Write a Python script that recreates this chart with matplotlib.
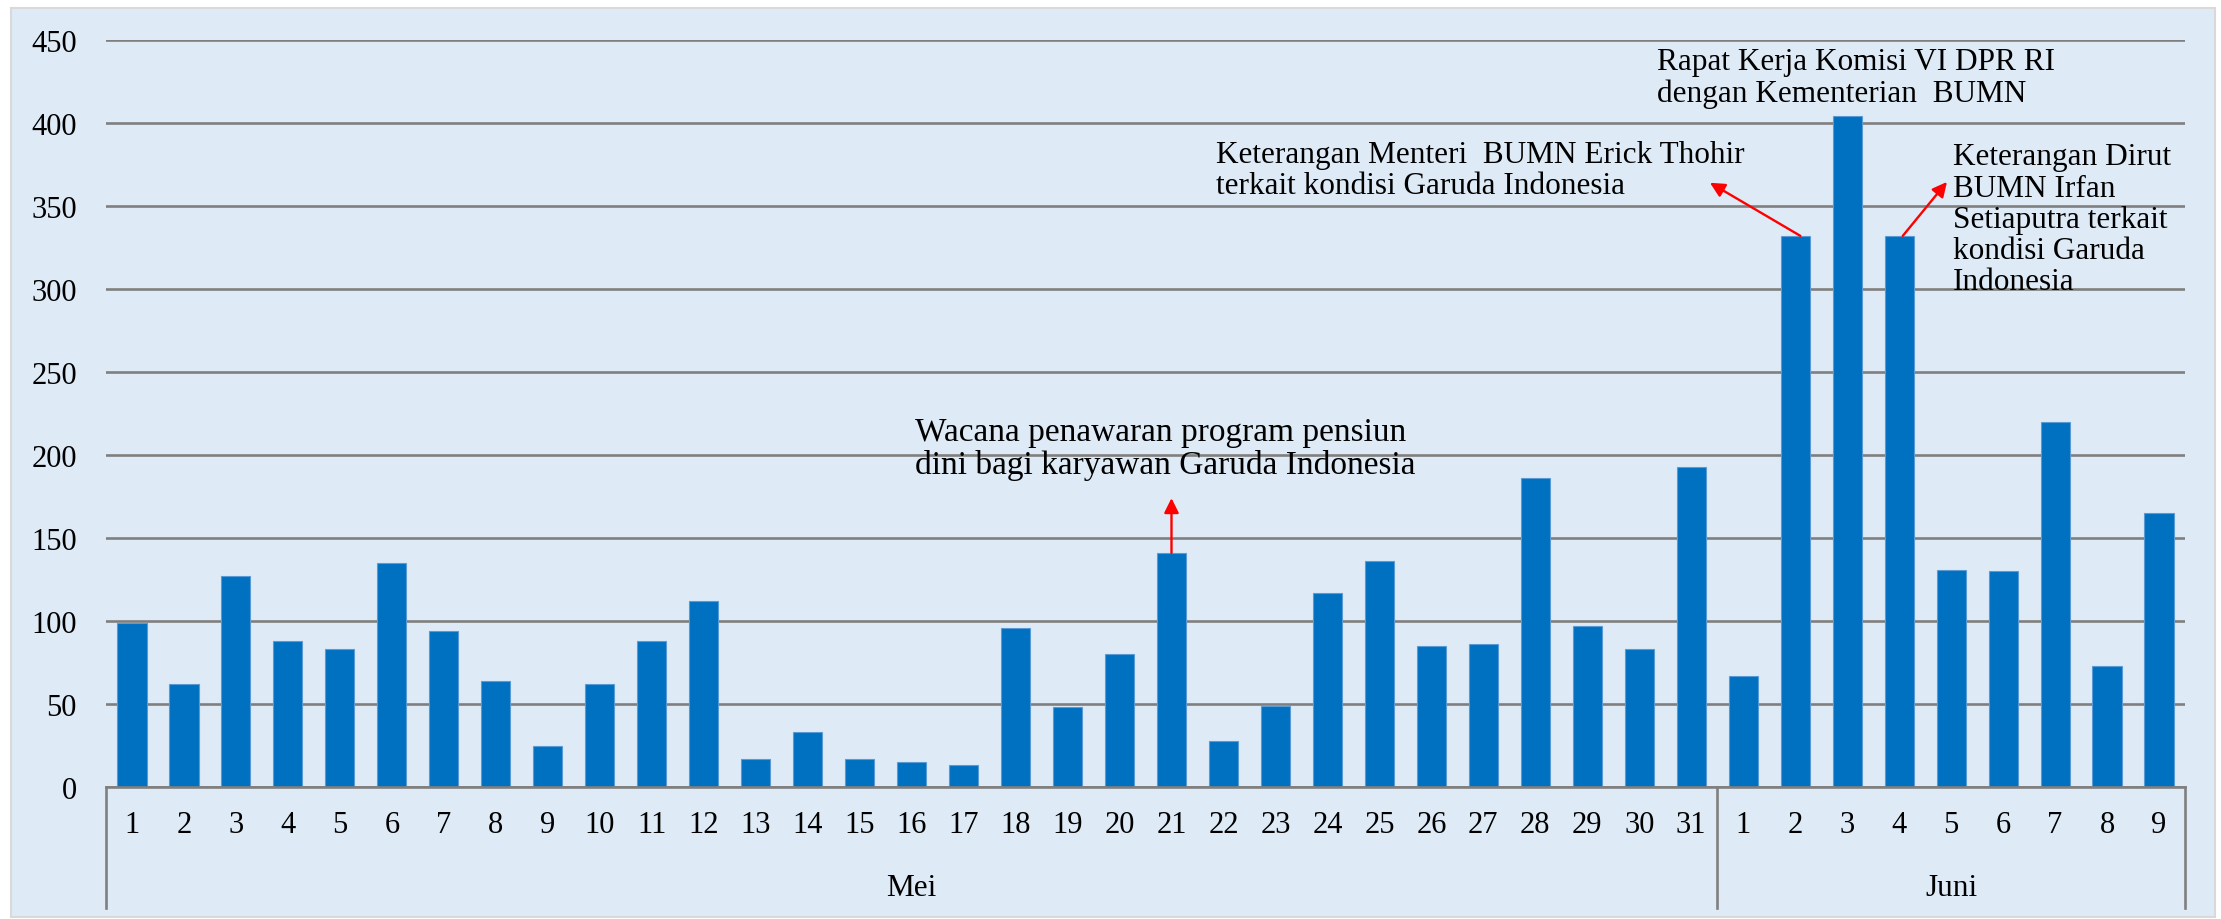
import matplotlib
matplotlib.use('Agg')
import matplotlib.pyplot as plt
import matplotlib.transforms as mtransforms
from matplotlib.patches import Rectangle
import numpy as np

# daily counts, Mei 1-31 and Juni 1-9
days_mei = list(range(1, 32))
days_juni = list(range(1, 10))
values_mei = [99, 62, 127, 88, 83, 135, 94, 64, 25, 62, 88, 112, 17, 33, 17, 15, 13,
              96, 48, 80, 141, 28, 49, 117, 136, 85, 86, 186, 97, 83, 193]
values_juni = [67, 332, 404, 332, 131, 130, 220, 73, 165]
months = ['Mei', 'Juni']

notes = [
    'Wacana penawaran program pensiun\ndini bagi karyawan Garuda Indonesia',
    'Keterangan Menteri  BUMN Erick Thohir\nterkait kondisi Garuda Indonesia',
    'Rapat Kerja Komisi VI DPR RI\ndengan Kementerian  BUMN',
    'Keterangan Dirut\nBUMN Irfan\nSetiaputra terkait\nkondisi Garuda\nIndonesia',
]

plt.rcParams['font.family'] = ['Liberation Serif', 'DejaVu Serif']

W, H = 2221, 920
fig = plt.figure(figsize=(W / 100, H / 100), dpi=100)
fig.patch.set_facecolor('white')
fig.patches.append(Rectangle((11 / W, 2 / H), (2215 - 11) / W, (918 - 9) / H,
                             transform=fig.transFigure, facecolor='#DEEBF7',
                             edgecolor='#D9D9D9', lw=1.5, zorder=-10))

ax = fig.add_axes([106 / W, 1 - 788 / H, (2185 - 106) / W, (788 - 41) / H])
ax.patch.set_visible(False)

values = values_mei + values_juni
labels = [str(d) for d in days_mei + days_juni]
x = np.arange(len(values))

ax.bar(x, values, width=0.56, color='#0070C0', edgecolor='#5B9BD5', linewidth=0.8, zorder=2)

ax.set_xlim(-0.5, len(values) - 0.5)
ax.set_ylim(0, 450)
ax.set_yticks(range(0, 451, 50))
ax.yaxis.grid(True, color='#7F7F7F', lw=1.9)
ax.set_axisbelow(True)
for s in ['top', 'right', 'left']:
    ax.spines[s].set_visible(False)
ax.spines['bottom'].set_color('#7F7F7F')
ax.spines['bottom'].set_linewidth(1.9)

ax.set_xticks(x)
ax.set_xticklabels(labels)
ax.tick_params(axis='y', length=0, labelsize=22, pad=21)
ax.tick_params(axis='x', length=0, labelsize=22, pad=27)
for lbl in ax.get_xticklabels():
    lbl.set_va('center')

# month group separators and labels
trans = mtransforms.blended_transform_factory(ax.transData, ax.transAxes)
bounds = [-0.5, len(days_mei) - 0.5, len(values) - 0.5]
for b in bounds:
    ax.plot([b, b], [0, -0.162], transform=trans, color='#7F7F7F', lw=1.9, clip_on=False)
for i, m in enumerate(months):
    ax.text((bounds[i] + bounds[i + 1]) / 2, -0.135, m, transform=trans,
            ha='center', va='center', fontsize=22.5)

# annotations
tkw = dict(fontsize=22.5, ha='left', va='center', linespacing=1.1)
akw = dict(arrowstyle='-|>', color='red', lw=1.7, mutation_scale=22, shrinkA=0, shrinkB=0)

ax.text(15.07, 204, notes[0], **dict(tkw, fontsize=24))
ax.annotate('', xy=(20, 174), xytext=(20, values[20]), arrowprops=akw)

ax.text(20.86, 371.5, notes[1], **tkw)
ax.annotate('', xy=(30.36, 364), xytext=(32.1, values[32]), arrowprops=akw)

ax.text(29.34, 427.5, notes[2], **tkw)

ax.text(35.04, 342, notes[3], **tkw)
ax.annotate('', xy=(34.92, 364.5), xytext=(34.07, values[34]), arrowprops=akw)

fig.savefig('out.png', dpi=100)
